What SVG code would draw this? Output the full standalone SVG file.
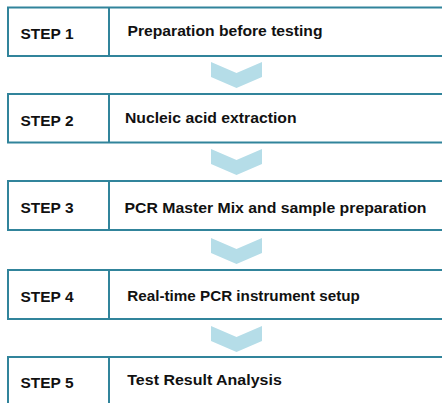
<svg xmlns="http://www.w3.org/2000/svg" width="442" height="403" viewBox="0 0 442 403">
<defs>
<style>
.box{fill:#fff;stroke:#31849b;stroke-width:2}
.div{stroke:#31849b;stroke-width:2}
.chev{fill:#b5dde8}
.step{font-family:"Liberation Sans",Arial,sans-serif;font-weight:bold;font-size:15px;fill:#111}
.title{font-family:"Liberation Sans",Arial,sans-serif;font-weight:bold;font-size:15.5px;fill:#111}
</style>
<polygon id="chevShape" class="chev" points="0,0 25.5,11 51,0 51,15 25.5,26 0,15"/>
</defs>
<rect width="442" height="403" fill="#fff"/>
<g id="connectors">
<use href="#chevShape" x="211" y="62"/>
<use href="#chevShape" x="211" y="149"/>
<use href="#chevShape" x="211" y="238"/>
<use href="#chevShape" x="211" y="326"/>
</g>
<g id="step1">
<rect class="box" x="8" y="7.5" width="460" height="48.5"/>
<line class="div" x1="109" y1="7.5" x2="109" y2="56"/>
<text class="step" x="20.5" y="38.5" textLength="53" lengthAdjust="spacingAndGlyphs">STEP 1</text>
<text class="title" x="127.5" y="35.5" textLength="195" lengthAdjust="spacingAndGlyphs">Preparation before testing</text>
</g>
<g id="step2">
<rect class="box" x="8" y="94" width="460" height="48.5"/>
<line class="div" x1="109" y1="94" x2="109" y2="142.5"/>
<text class="step" x="20.5" y="125.7" textLength="53" lengthAdjust="spacingAndGlyphs">STEP 2</text>
<text class="title" x="125" y="122.7" textLength="171.5" lengthAdjust="spacingAndGlyphs">Nucleic acid extraction</text>
</g>
<g id="step3">
<rect class="box" x="8" y="181" width="460" height="49"/>
<line class="div" x1="109" y1="181" x2="109" y2="230"/>
<text class="step" x="20.5" y="212.7" textLength="53" lengthAdjust="spacingAndGlyphs">STEP 3</text>
<text class="title" x="124.5" y="213.3" textLength="302" lengthAdjust="spacingAndGlyphs">PCR Master Mix and sample preparation</text>
</g>
<g id="step4">
<rect class="box" x="8" y="270" width="460" height="49"/>
<line class="div" x1="109" y1="270" x2="109" y2="319"/>
<text class="step" x="20.5" y="301.7" textLength="53" lengthAdjust="spacingAndGlyphs">STEP 4</text>
<text class="title" x="127.3" y="301.3" textLength="232.5" lengthAdjust="spacingAndGlyphs">Real-time PCR instrument setup</text>
</g>
<g id="step5">
<rect class="box" x="8" y="357" width="460" height="60"/>
<line class="div" x1="109" y1="357" x2="109" y2="417"/>
<text class="step" x="20.5" y="387.7" textLength="53" lengthAdjust="spacingAndGlyphs">STEP 5</text>
<text class="title" x="127.3" y="385" textLength="154.5" lengthAdjust="spacingAndGlyphs">Test Result Analysis</text>
</g>
</svg>
